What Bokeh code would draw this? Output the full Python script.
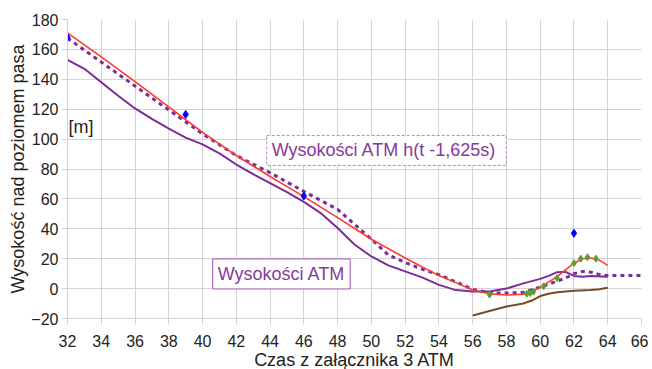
from bokeh.plotting import figure
from bokeh.models import Label, FixedTicker, Range1d
from bokeh.embed import file_html
from bokeh.resources import INLINE

# ---- data ----
red_x = [32, 34, 36, 38, 40, 42, 44, 46, 48, 50, 52, 54, 55, 56, 57, 58, 59, 59.5, 60, 61, 62, 62.5, 63, 63.5, 64]
red_y = [171, 155, 138.5, 121.5, 104.5, 89, 75, 61.5, 47.5, 33, 20.5, 8.7, 4, -1, -3.5, -4.3, -3.8, -2, 0.8, 8, 17, 20, 20.5, 19, 15.5]

dash_x = [32, 34, 36, 38, 40, 42, 44, 46, 48, 49, 50, 51, 52, 53, 54, 55, 56, 57, 58, 59, 60, 61, 61.5, 62, 62.5, 63, 63.5, 64, 65, 66]
dash_y = [167.5, 151.5, 135.5, 119.5, 103.5, 89, 77.5, 65, 53, 43, 33, 22.5, 17.5, 13, 9.3, 4.5, -0.5, -2.8, -3, -2.5, 1, 5, 7, 10, 11.5, 11, 9.5, 8.7, 8.7, 8.7]

atm_x = [32, 33, 34, 35, 36, 37, 38, 39, 40, 41, 42, 43, 44, 45, 46, 47, 48, 49, 50, 51, 52, 53, 54, 55, 56, 57, 58, 59, 60, 60.5, 61, 61.5, 62, 62.5, 63, 64]
atm_y = [153, 147, 138, 129, 120.5, 113.5, 107, 101, 96.5, 90.5, 83, 76.5, 70.5, 64.5, 58, 50.5, 40.5, 29.5, 21.5, 15.5, 11.5, 7.5, 2.5, -1, -2, -2, 0, 3.5, 6.5, 8.5, 11, 11.2, 8.5, 8, 8.5, 8]

brown_x = [56, 57, 58, 59, 59.5, 60, 60.5, 61, 62, 63, 63.5, 64]
brown_y = [-18, -15, -12, -10, -8, -5, -3.5, -2.5, -1.5, -1, -0.5, 0.5]

blue_x = [32, 39, 46, 62]
blue_y = [168, 116.5, 62, 37]

green_x = [57, 59.2, 59.4, 59.6, 60.2, 61, 62, 62.4, 62.8, 63.3]
green_y = [-4, -3.5, -3, -2, 1.5, 7, 17, 20, 21, 20]

x_ticks = list(range(32, 67, 2))
y_ticks = list(range(-20, 181, 20))

p = figure(width=648, height=375, output_backend="svg", toolbar_location=None,
           x_range=Range1d(32, 66), y_range=Range1d(-20, 180),
           min_border_left=67, min_border_top=19, min_border_right=7, min_border_bottom=57)
p.outline_line_color = None
p.background_fill_color = "white"

grid_col = "#d4d4d4"
for ax in (p.xaxis[0], p.yaxis[0]):
    ax.axis_line_color = grid_col
    ax.major_tick_line_color = grid_col
    ax.minor_tick_line_color = None
    ax.major_tick_out = 6
    ax.major_tick_in = 0
    ax.major_label_text_font = "Liberation Sans"
    ax.major_label_text_font_size = "16px"
    ax.major_label_text_color = "#222222"
    ax.axis_label_text_font = "Liberation Sans"
    ax.axis_label_text_font_size = "18px"
    ax.axis_label_text_font_style = "normal"
    ax.axis_label_text_color = "#222222"

p.xaxis.ticker = FixedTicker(ticks=x_ticks)
p.yaxis.ticker = FixedTicker(ticks=y_ticks)
p.xaxis.axis_label = "Czas z załącznika 3 ATM"
p.yaxis.axis_label = "Wysokość nad poziomem pasa"
p.xaxis.major_label_standoff = 10
p.xaxis.axis_label_standoff = 0
p.yaxis.major_label_standoff = 3
p.yaxis.axis_label_standoff = 0
p.xgrid.grid_line_color = grid_col
p.ygrid.grid_line_color = grid_col

p.line(brown_x, brown_y, line_color="#7b4a24", line_width=2)
p.line(atm_x, atm_y, line_color="#7b2c98", line_width=2)
p.line(dash_x, dash_y, line_color="#7b2c98", line_width=3, line_dash="4 4")
p.line(red_x, red_y, line_color="#ff3b2f", line_width=1.6)
p.scatter(green_x, green_y, marker="diamond", size=7, fill_color="#5aa02c", line_color="#5aa02c")
p.scatter(blue_x, blue_y, marker="diamond", size=8, fill_color="#0000ff", line_color="#0000ff")

p.add_layout(Label(x=32.06, y=108, text="[m]", text_font="Liberation Sans", text_font_size="18px",
                   text_color="#222222", text_baseline="middle"))
p.add_layout(Label(x=43.8, y=92.4, text="Wysokości ATM  h(t -1,625s)", text_font="Liberation Sans",
                   text_font_size="18px", text_color="#863a9c", text_baseline="middle",
                   border_line_color="#c080d0", border_line_dash="3 2", border_line_width=1,
                   background_fill_color="white", padding=5))
p.add_layout(Label(x=40.6, y=9.8, text="Wysokości ATM", text_font="Liberation Sans",
                   text_font_size="18px", text_color="#863a9c", text_baseline="middle",
                   border_line_color="#a050b8", border_line_width=1,
                   background_fill_color="white", padding=5))

open("out.html", "w").write(file_html(p, INLINE))
